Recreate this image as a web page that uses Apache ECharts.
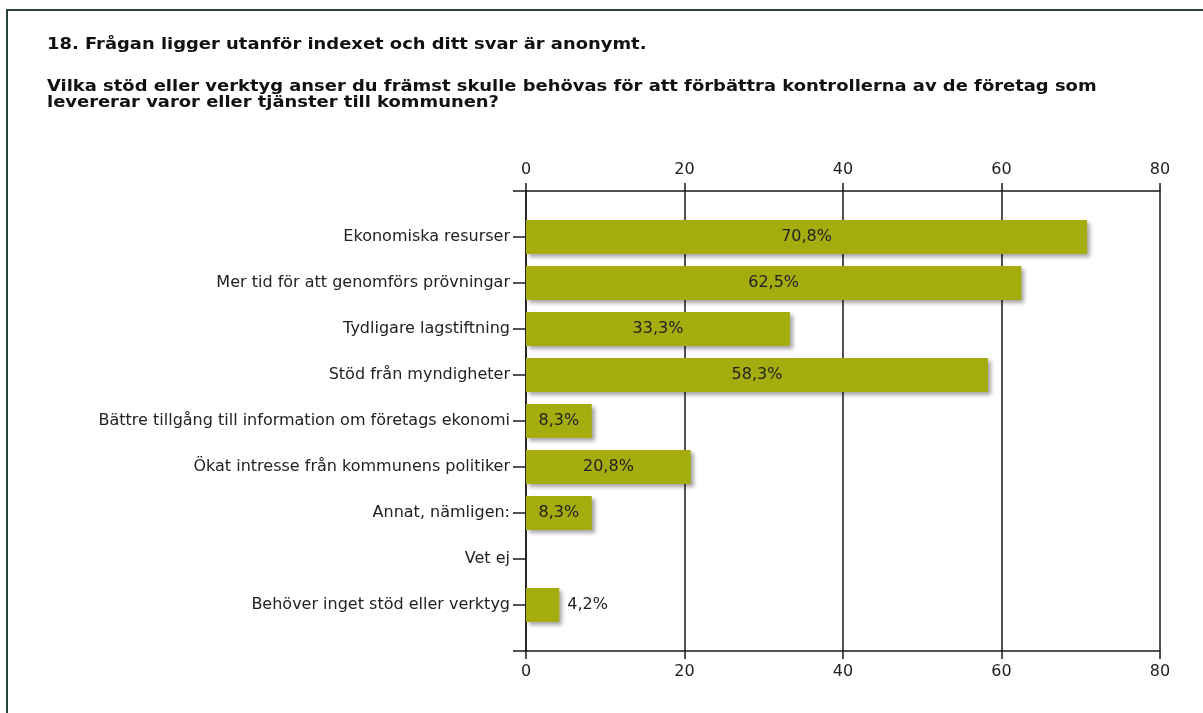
<!DOCTYPE html>
<html><head><meta charset="utf-8">
<script src="https://cdn.jsdelivr.net/npm/echarts@6/dist/echarts.min.js"></script>
<style>html,body{margin:0;padding:0;background:#fff}#c{width:1203px;height:713px}</style>
</head><body><div id="c"></div>
<script>
const titleLine1 = "18. Frågan ligger utanför indexet och ditt svar är anonymt.";
const titleLine2 = "Vilka stöd eller verktyg anser du främst skulle behövas för att förbättra kontrollerna av de företag som";
const titleLine3 = "levererar varor eller tjänster till kommunen?";
const categories = ["Ekonomiska resurser","Mer tid för att genomförs prövningar","Tydligare lagstiftning","Stöd från myndigheter","Bättre tillgång till information om företags ekonomi","Ökat intresse från kommunens politiker","Annat, nämligen:","Vet ej","Behöver inget stöd eller verktyg"];
const values = [70.8, 62.5, 33.3, 58.3, 8.3, 20.8, 8.3, 0, 4.2];
const xTicks = [0, 20, 40, 60, 80];

const cats = [""].concat(categories).concat([""]);
const data = [null].concat(values.map(v => ({
  value: v === 0 ? null : v,
  label: { position: v < 5 ? 'right' : 'inside', distance: 8 }
}))).concat([null]);

const font = "DejaVu Sans";
const chart = echarts.init(document.getElementById('c'));
const axisCommon = {
  type: 'value', min: xTicks[0], max: xTicks[xTicks.length-1], interval: 20,
  axisLine: { show: true, lineStyle: { color: '#1a1a1a', width: 1.5 } },
  axisTick: { show: true, length: 8, lineStyle: { color: '#1a1a1a', width: 1.5 } },
  axisLabel: { color: '#222', fontFamily: font, fontSize: 16, margin: 13 },
};
chart.setOption({
  animation: false,
  graphic: [
    { type: 'rect', shape: { x: 7, y: 10, width: 1250, height: 760 }, style: { fill: 'none', stroke: '#24433f', lineWidth: 2 } },
    { type: 'text', x: 47, y: 37, scaleX: 1.12, style: { text: titleLine1, font: 'bold 16px "DejaVu Sans"', fill: '#111', lineHeight: 16 } },
    { type: 'text', x: 47, y: 79, scaleX: 1.12, style: { text: titleLine2 + "\n" + titleLine3, font: 'bold 16px "DejaVu Sans"', fill: '#111', lineHeight: 16 } }
  ],
  grid: { left: 526, right: 43, top: 191, bottom: 62 },
  xAxis: [
    Object.assign({}, axisCommon, { position: 'bottom', splitLine: { show: true, lineStyle: { color: '#1a1a1a', width: 1.5 } } }),
    Object.assign({}, axisCommon, { position: 'top', splitLine: { show: false } })
  ],
  yAxis: {
    type: 'category', data: cats, inverse: true, boundaryGap: false,
    axisLine: { show: true, lineStyle: { color: '#1a1a1a', width: 1.5 } },
    axisTick: { show: true, length: 13, lineStyle: { color: '#1a1a1a', width: 1.5 } },
    axisLabel: { color: '#222', fontFamily: font, fontSize: 16, margin: 16 },
    splitLine: { show: false }
  },
  series: [{
    type: 'bar', data: data, barWidth: 34,
    itemStyle: { color: '#a4ad0d', shadowColor: 'rgba(0,0,0,0.35)', shadowBlur: 4, shadowOffsetX: 3, shadowOffsetY: 3 },
    label: { show: true, color: '#222', fontFamily: font, fontSize: 16,
      formatter: p => p.value == null ? '' : p.value.toFixed(1).replace('.', ',') + '%' }
  }]
});
</script></body></html>
